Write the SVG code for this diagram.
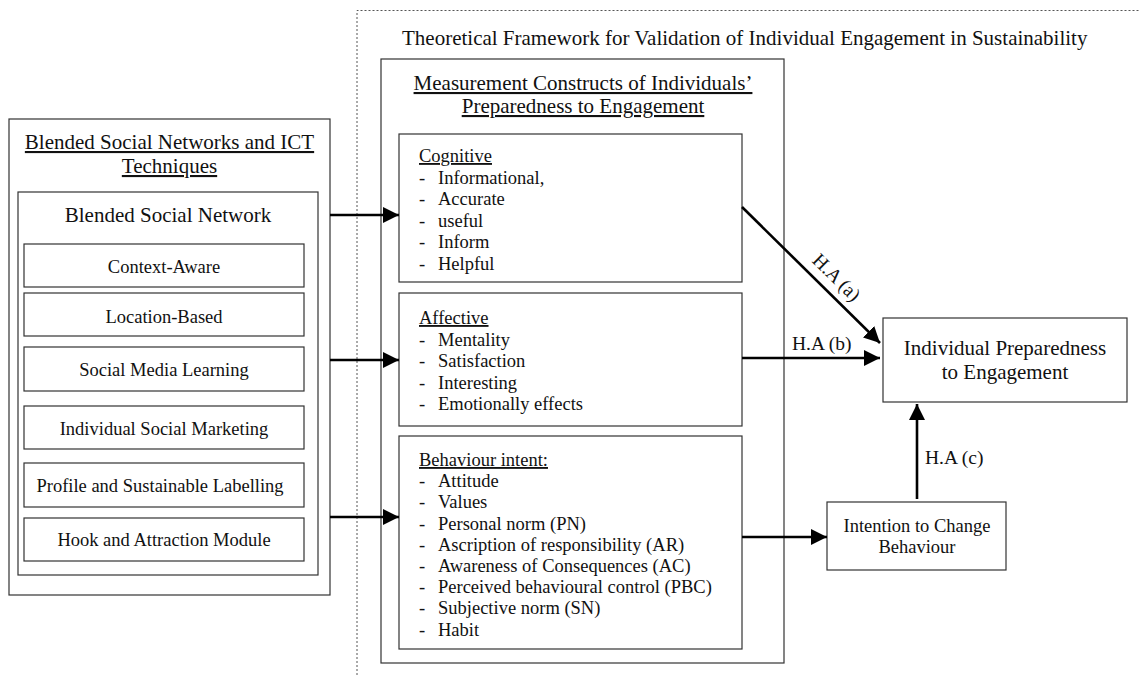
<svg xmlns="http://www.w3.org/2000/svg" width="1139" height="675" viewBox="0 0 1139 675">
  <style>
    text { font-family: "Liberation Serif", "Times New Roman", serif; fill: #111; }
    .t21 { font-size: 21px; }
    .t19 { font-size: 19.5px; }
    .t18 { font-size: 18.5px; }
    .mid { text-anchor: middle; }
    .ul { text-decoration: underline; }
    .box { fill: #fff; stroke: #333; stroke-width: 1.2; }
    .frame { fill: none; stroke: #555; stroke-width: 1; stroke-dasharray: 2 2; }
    .arrow { fill: none; stroke: #000; stroke-width: 2.6; marker-end: url(#head); }
  </style>
  <defs>
    <marker id="head" viewBox="0 0 10 10" refX="10" refY="5" markerUnits="userSpaceOnUse" markerWidth="16" markerHeight="16" orient="auto">
      <path d="M0,0 L10,5 L0,10 Z" fill="#000"/>
    </marker>
  </defs>
  <rect width="1139" height="675" fill="#fff"/>

  <!-- validation framework frame (open on right and bottom) -->
  <g id="framework">
    <path class="frame" d="M357,675 L357,10.5 L1139,10.5"/>
    <text class="t21" x="402" y="45">Theoretical Framework for Validation of Individual Engagement in Sustainability</text>
  </g>

  <!-- left block: blended social networks and ICT techniques -->
  <g id="ict-techniques">
    <rect class="box" x="9" y="119" width="321" height="476"/>
    <text class="t21 mid ul" x="169.5" y="149">Blended Social Networks and ICT</text>
    <text class="t21 mid ul" x="169.5" y="173">Techniques</text>
  </g>
  <g id="blended-social-network">
    <rect class="box" x="18" y="192" width="300" height="383"/>
    <text class="t21 mid" x="168" y="222">Blended Social Network</text>
  </g>
  <g id="context-aware">
    <rect class="box" x="24" y="244" width="280" height="43"/>
    <text class="t18 mid" x="164" y="273">Context-Aware</text>
  </g>
  <g id="location-based">
    <rect class="box" x="24" y="293" width="280" height="43"/>
    <text class="t18 mid" x="164" y="323">Location-Based</text>
  </g>
  <g id="social-media-learning">
    <rect class="box" x="24" y="347" width="280" height="44"/>
    <text class="t18 mid" x="164" y="376">Social Media Learning</text>
  </g>
  <g id="individual-social-marketing">
    <rect class="box" x="24" y="406" width="280" height="43"/>
    <text class="t18 mid" x="164" y="435">Individual Social Marketing</text>
  </g>
  <g id="profile-labelling">
    <rect class="box" x="24" y="463" width="280" height="44"/>
    <text class="t18 mid" x="160" y="492">Profile and Sustainable Labelling</text>
  </g>
  <g id="hook-attraction">
    <rect class="box" x="24" y="518" width="280" height="43"/>
    <text class="t18 mid" x="164" y="546">Hook and Attraction Module</text>
  </g>

  <!-- measurement constructs -->
  <g id="measurement-constructs">
    <rect class="box" x="381" y="59" width="403" height="604"/>
    <text class="t21 mid ul" x="583" y="90">Measurement Constructs of Individuals’</text>
    <text class="t21 mid ul" x="583" y="113">Preparedness to Engagement</text>
  </g>
  <g id="cognitive">
    <rect class="box" x="399" y="134" width="343" height="148"/>
    <text class="t18" x="419" y="162"><tspan class="ul">Cognitive</tspan></text>
    <g class="t18">
      <text x="419" y="183.5">-</text><text x="438" y="183.5">Informational,</text>
      <text x="419" y="205">-</text><text x="438" y="205">Accurate</text>
      <text x="419" y="226.5">-</text><text x="438" y="226.5">useful</text>
      <text x="419" y="248">-</text><text x="438" y="248">Inform</text>
      <text x="419" y="269.5">-</text><text x="438" y="269.5">Helpful</text>
    </g>
  </g>
  <g id="affective">
    <rect class="box" x="399" y="293" width="343" height="133"/>
    <text class="t18" x="419" y="324"><tspan class="ul">Affective</tspan></text>
    <g class="t18">
      <text x="419" y="345.5">-</text><text x="438" y="345.5">Mentality</text>
      <text x="419" y="367">-</text><text x="438" y="367">Satisfaction</text>
      <text x="419" y="388.5">-</text><text x="438" y="388.5">Interesting</text>
      <text x="419" y="410">-</text><text x="438" y="410">Emotionally effects</text>
    </g>
  </g>
  <g id="behaviour-intent">
    <rect class="box" x="399" y="436" width="343" height="213"/>
    <text class="t18" x="419" y="466"><tspan class="ul">Behaviour intent:</tspan></text>
    <g class="t18">
      <text x="419" y="487.2">-</text><text x="438" y="487.2">Attitude</text>
      <text x="419" y="508.4">-</text><text x="438" y="508.4">Values</text>
      <text x="419" y="529.6">-</text><text x="438" y="529.6">Personal norm (PN)</text>
      <text x="419" y="550.8">-</text><text x="438" y="550.8">Ascription of responsibility (AR)</text>
      <text x="419" y="572">-</text><text x="438" y="572">Awareness of Consequences (AC)</text>
      <text x="419" y="593.2">-</text><text x="438" y="593.2">Perceived behavioural control (PBC)</text>
      <text x="419" y="614.4">-</text><text x="438" y="614.4">Subjective norm (SN)</text>
      <text x="419" y="635.6">-</text><text x="438" y="635.6">Habit</text>
    </g>
  </g>

  <!-- outcomes -->
  <g id="individual-preparedness">
    <rect class="box" x="883" y="318" width="244" height="84"/>
    <text class="t21 mid" x="1005" y="355">Individual Preparedness</text>
    <text class="t21 mid" x="1005" y="379">to Engagement</text>
  </g>
  <g id="intention-change">
    <rect class="box" x="827" y="502" width="179" height="68"/>
    <text class="t18 mid" x="917" y="532">Intention to Change</text>
    <text class="t18 mid" x="917" y="553">Behaviour</text>
  </g>

  <!-- connectors -->
  <g id="connectors">
    <line class="arrow" x1="330" y1="215" x2="399" y2="215"/>
    <line class="arrow" x1="330" y1="360" x2="399" y2="360"/>
    <line class="arrow" x1="330" y1="517" x2="399" y2="517"/>
    <line class="arrow" x1="742" y1="207" x2="880" y2="343"/>
    <line class="arrow" x1="742" y1="358" x2="880" y2="358"/>
    <line class="arrow" x1="742" y1="537" x2="827" y2="537"/>
    <line class="arrow" x1="917" y1="499" x2="917" y2="404"/>
    <text class="t19" x="837" y="284" text-anchor="middle" transform="rotate(44.6 837 277)">H.A (a)</text>
    <text class="t19" x="792" y="350">H.A (b)</text>
    <text class="t19" x="925" y="464">H.A (c)</text>
  </g>
</svg>
